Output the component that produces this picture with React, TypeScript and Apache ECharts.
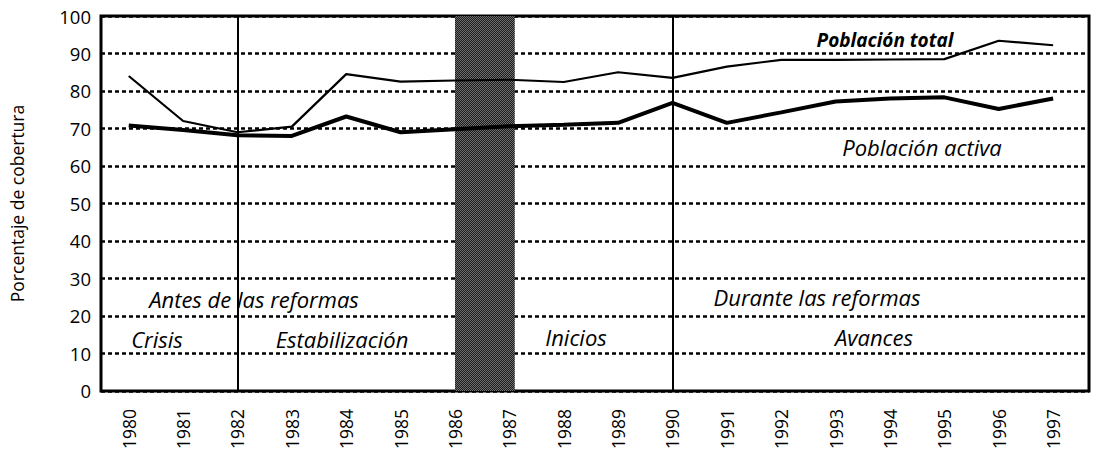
import React, { useEffect, useRef } from "react";
import * as echarts from "echarts";

const years = [1980, 1981, 1982, 1983, 1984, 1985, 1986, 1987, 1988, 1989, 1990, 1991, 1992, 1993, 1994, 1995, 1996, 1997];
const totalPop = [84, 72, 69, 70.5, 84.5, 82.5, 82.8, 83, 82.4, 85, 83.5, 86.5, 88.3, 88.3, 88.4, 88.5, 93.4, 92.2];
const activePop = [70.8, 69.6, 68.2, 68.0, 73.2, 69.0, 69.8, 70.6, 71.0, 71.5, 76.8, 71.5, 74.3, 77.2, 78.0, 78.3, 75.2, 78.0];
const yTicks = [0, 10, 20, 30, 40, 50, 60, 70, 80, 90, 100];
const dividerYears = [1982, 1990];
const shadedPeriod = [1986, 1987.1];

const annotations = [
  { text: "Antes de las reformas", x: 254, y: 299 },
  { text: "Crisis", x: 157, y: 339 },
  { text: "Estabilización", x: 342, y: 339 },
  { text: "Inicios", x: 576, y: 337 },
  { text: "Durante las reformas", x: 817, y: 297 },
  { text: "Avances", x: 874, y: 337 },
  { text: "Población activa", x: 922, y: 147 },
];

const FONT = "'Open Sans', 'Noto Sans', sans-serif";

function makePattern(): any {
  const c = document.createElement("canvas");
  c.width = 2;
  c.height = 2;
  const ctx = c.getContext("2d")!;
  ctx.fillStyle = "#1a1a1a";
  ctx.fillRect(0, 0, 2, 2);
  ctx.fillStyle = "#707070";
  ctx.fillRect(0, 0, 1, 1);
  ctx.fillRect(1, 1, 1, 1);
  return { image: c, repeat: "repeat" };
}

export default function App() {
  const ref = useRef<HTMLDivElement>(null);
  useEffect(() => {
    document.body.style.margin = "0";
    const chart = echarts.init(ref.current!, null, { renderer: "svg" });
    let shadeColor: any = "#3a3a3a";
    try {
      shadeColor = makePattern();
    } catch (e) {
      shadeColor = "#3a3a3a";
    }
    const option: any = {
      animation: false,
      backgroundColor: "#ffffff",
      grid: {
        left: 92,
        top: 16,
        right: 7,
        bottom: 59,
        show: true,
        borderColor: "#000",
        borderWidth: 3,
        backgroundColor: "transparent",
      },
      xAxis: {
        type: "value",
        min: 1979.49,
        max: 1997.66,
        axisLine: { show: false },
        axisTick: { show: false },
        splitLine: { show: false },
        axisLabel: {
          customValues: years,
          rotate: 90,
          margin: 18,
          fontSize: 17.5,
          color: "#000",
          fontFamily: FONT,
          formatter: (v: number) => String(Math.round(v)),
        },
      },
      yAxis: {
        type: "value",
        min: 0,
        max: 100,
        interval: 10,
        name: "Porcentaje de cobertura",
        nameLocation: "middle",
        nameRotate: 90,
        nameGap: 75,
        nameTextStyle: { fontSize: 17.5, color: "#000", fontFamily: FONT },
        axisLine: { show: false },
        axisTick: { show: false },
        axisLabel: {
          customValues: yTicks,
          fontSize: 18.5,
          color: "#000",
          margin: 10,
          fontFamily: FONT,
        },
        splitLine: {
          show: true,
          lineStyle: { color: "#000", width: 2.6, type: [4, 3] },
        },
      },
      series: [
        {
          name: "Población total",
          type: "line",
          data: years.map((y, i) => [y, totalPop[i]]),
          symbol: "none",
          lineStyle: { color: "#000", width: 2.2 },
          z: 3,
        },
        {
          name: "Población activa",
          type: "line",
          data: years.map((y, i) => [y, activePop[i]]),
          symbol: "none",
          lineStyle: { color: "#000", width: 4 },
          z: 3,
          markLine: {
            silent: true,
            symbol: "none",
            label: { show: false },
            lineStyle: { color: "#000", width: 2, type: "solid" },
            data: dividerYears.map((y) => ({ xAxis: y })),
          },
        },
        {
          name: "shade",
          type: "line",
          data: [],
          z: 10,
          markArea: {
            silent: true,
            itemStyle: { color: shadeColor, opacity: 1 },
            data: [[{ xAxis: shadedPeriod[0] }, { xAxis: shadedPeriod[1] }]],
          },
        },
      ],
      graphic: [
        ...annotations.map((a) => ({
          type: "text",
          x: a.x,
          y: a.y,
          z: 20,
          style: {
            text: a.text,
            fill: "#000",
            font: `italic 22px ${FONT}`,
            align: "center",
            verticalAlign: "middle",
          },
        })),
        {
          type: "text",
          x: 885,
          y: 40,
          z: 20,
          style: {
            text: "Población total",
            fill: "#000",
            font: `italic bold 19px ${FONT}`,
            align: "center",
            verticalAlign: "middle",
          },
        },
      ],
    };
    chart.setOption(option);
    return () => chart.dispose();
  }, []);
  return <div ref={ref} style={{ width: 1096, height: 452 }} />;
}
